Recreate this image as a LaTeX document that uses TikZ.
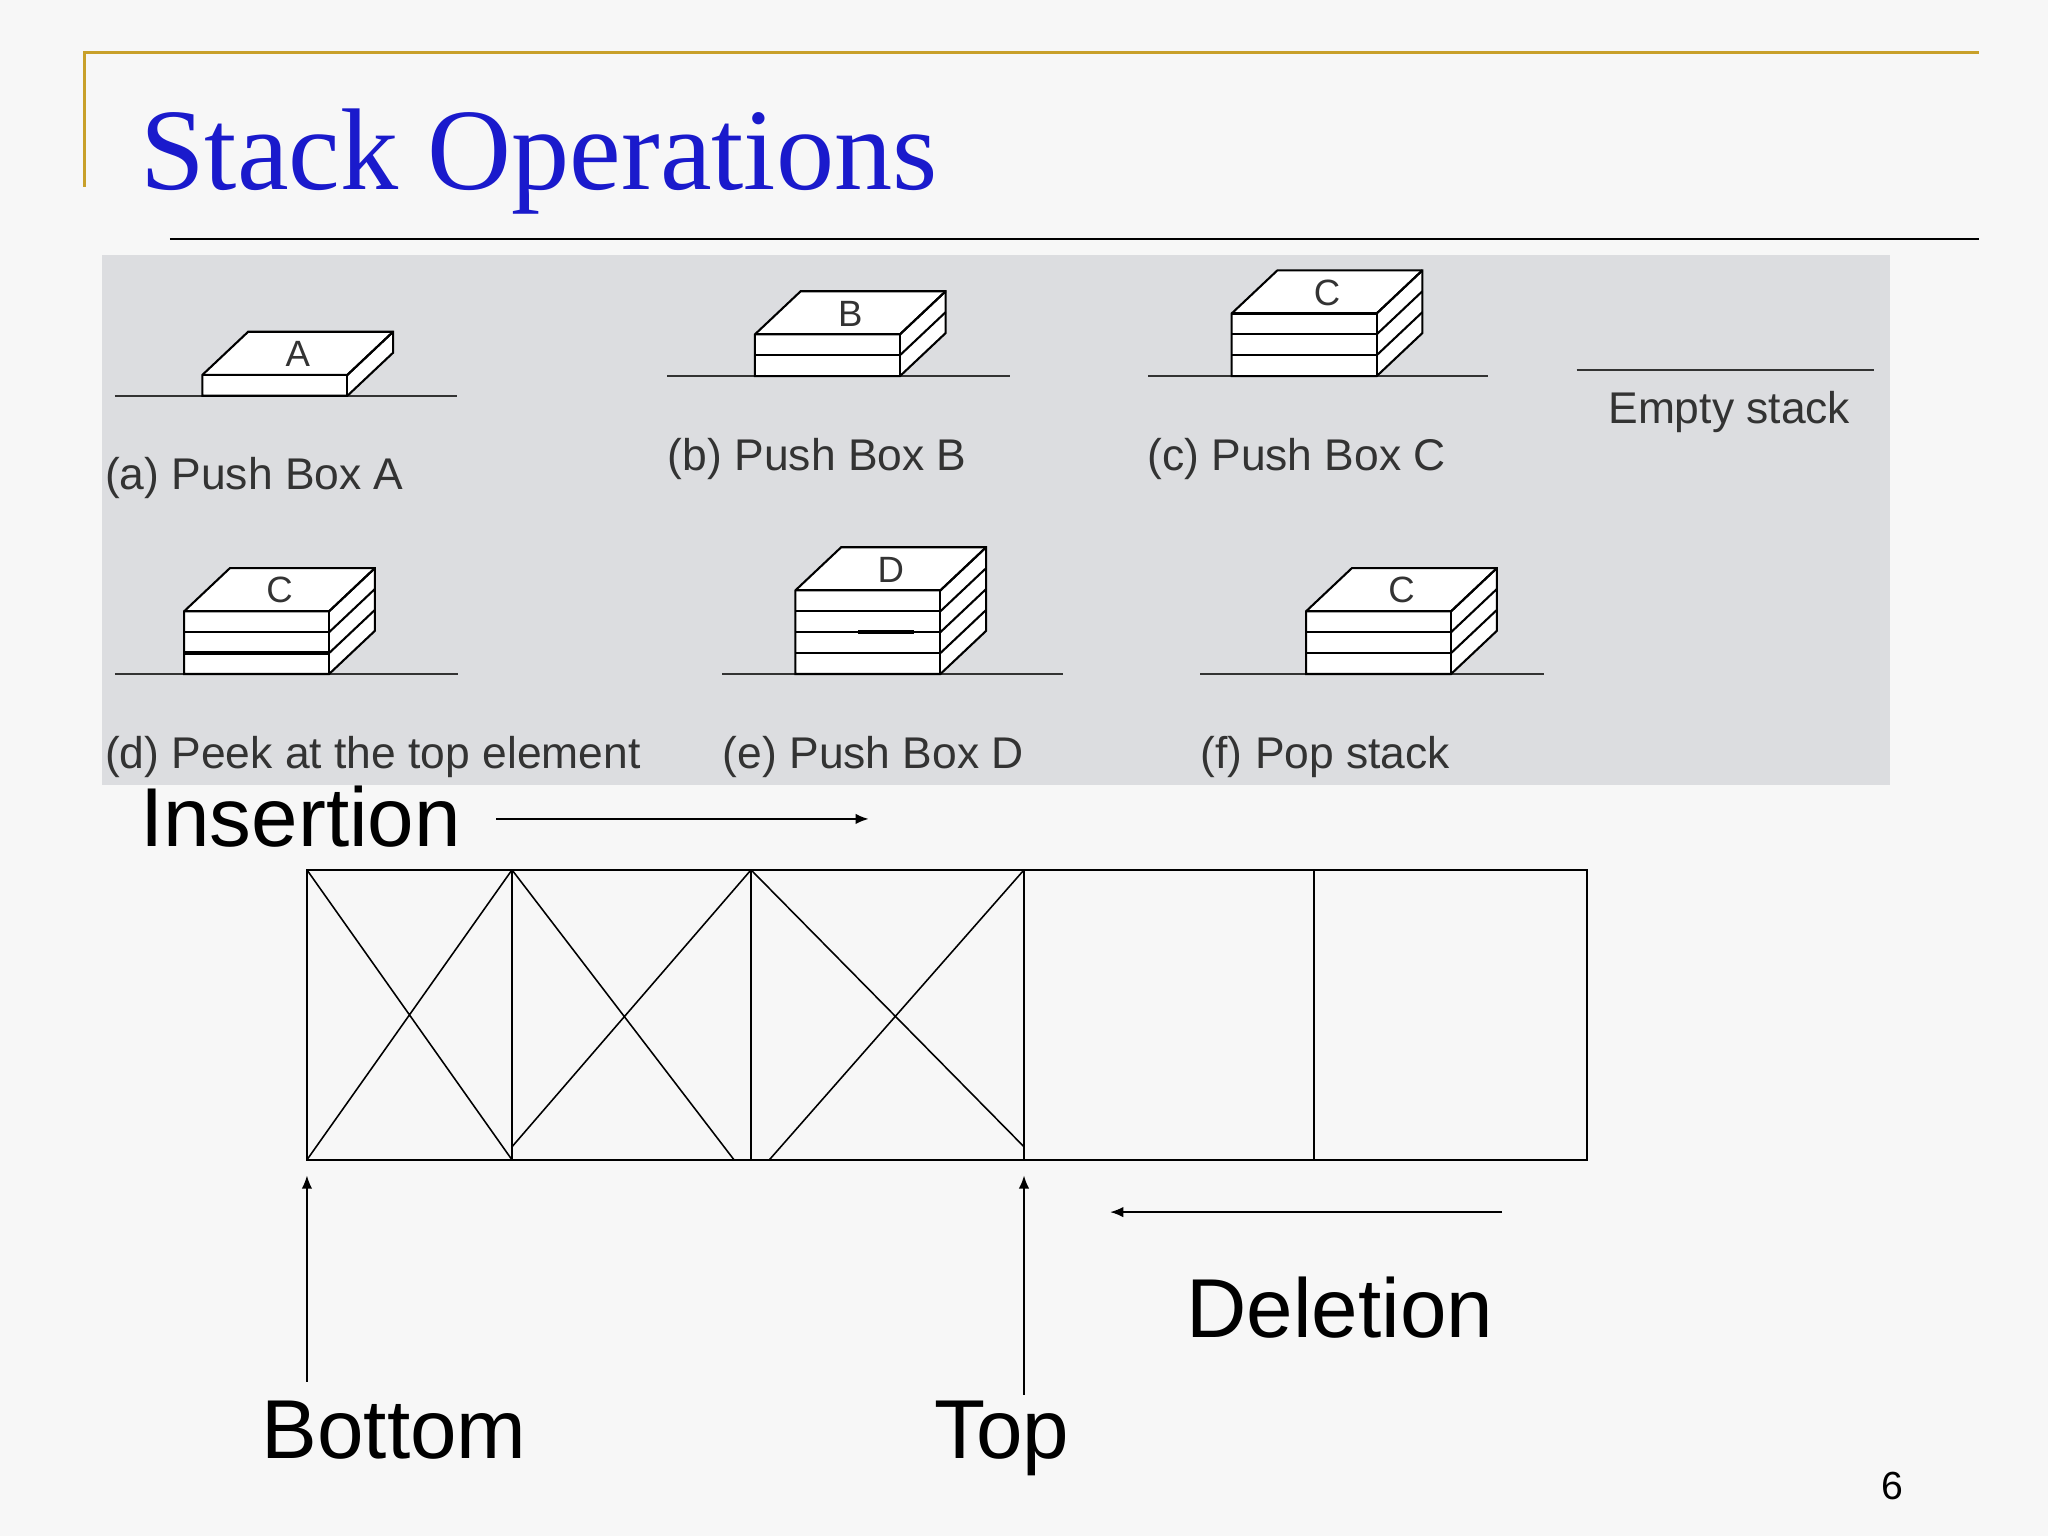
\documentclass[tikz,border=0pt]{standalone}
\usepackage{fontspec}
\setmainfont{Liberation Sans}
\newfontfamily\titlefont{Liberation Serif}
\usetikzlibrary{positioning,arrows.meta}
\definecolor{panelgray}{HTML}{DCDDE0}
\definecolor{titleblue}{HTML}{1A1ACC}
\definecolor{rulegold}{HTML}{C8A02A}
\definecolor{labelgray}{HTML}{333333}

% stacked box: x of front left, base y, layers, letter
\newcommand{\stackbox}[4]{%
  \pgfmathsetmacro{\topy}{#2-16*#3}
  \draw[thick,fill=white] (#1,#2) -- (#1+111,#2) -- (#1+146,#2-33) -- (#1+146,\topy-33)
    -- (#1+35,\topy-33) -- (#1,\topy) -- cycle;
  \draw[thick] (#1,\topy) -- (#1+111,\topy) -- (#1+146,\topy-33);
  \draw[thick] (#1+111,\topy) -- (#1+111,#2);
  \foreach \k in {1,...,#3} {
    \draw[thick] (#1,#2-16*\k) -- (#1+111,#2-16*\k);
    \draw[thick] (#1+111,#2-16*\k) -- (#1+146,#2-16*\k-33);
  }
  \node[font=\fontsize{14}{14}\selectfont,text=labelgray] at (#1+73,\topy-16) {#4};
}

\begin{document}
\begin{tikzpicture}[x=0.5pt,y=-0.5pt,
    lbl/.style={anchor=base west,inner sep=0,font=\fontsize{17}{17}\selectfont,text=labelgray},
    big/.style={anchor=base west,inner sep=0,font=\fontsize{32}{32}\selectfont},
    ground/.style={thick,black!80},
    cell/.style={draw,line width=0.6pt},
    arr/.style={-{Latex[length=5pt,width=4pt]},line width=0.6pt}]
  \fill[white!97!black] (0,0) rectangle (1568,1176);
  \useasboundingbox (0,0) rectangle (1568,1176);

  % title and rules
  \draw[rulegold,line width=1.2pt] (65,143) -- (65,40) -- (1515,40);
  \draw[line width=0.8pt] (130,183) -- (1515,183);
  \node[anchor=base west,inner sep=0,text=titleblue,font=\titlefont\fontsize{44.5}{44.5}\selectfont] (title) at (107,145) {Stack Operations};

  % panel
  \fill[panelgray] (78,195) rectangle (1447,601);
  \draw[ground] (88,303) -- (350,303);
  \draw[ground] (511,288) -- (773,288);
  \draw[ground] (879,288) -- (1139,288);
  \draw[ground] (1207,283) -- (1435,283);
  \draw[ground] (88,516) -- (351,516);
  \draw[ground] (553,516) -- (814,516);
  \draw[ground] (919,516) -- (1182,516);
  \stackbox{155}{303}{1}{A}
  \stackbox{578}{288}{2}{B}
  \stackbox{943}{288}{3}{C}
  \stackbox{141}{516}{3}{C}
  \draw[line width=1.6pt] (141,500) -- (252,500);
  \stackbox{609}{516}{4}{D}
  \draw[line width=1.6pt] (657,484) -- (700,484);
  \stackbox{1000}{516}{3}{C}
  \node[lbl] (la) at (80,375) {(a) Push Box A};
  \node[lbl] (lb) at (511,360) {(b) Push Box B};
  \node[lbl] (lc) at (878,360) {(c) Push Box C};
  \node[lbl] (le) at (1231,324) {Empty stack};
  \node[lbl] (ld) at (80,588) {(d) Peek at the top element};
  \node[lbl] (lee) at (553,588) {(e) Push Box D};
  \node[lbl] (lf) at (919,588) {(f) Pop stack};

  % array
  \foreach \a/\b [count=\i] in {235/392,392/575,575/784,784/1006,1006/1215}
    \draw[cell] (\a,666) rectangle (\b,888) coordinate (c\i);
  \draw[line width=0.6pt] (235,666) -- (392,888) (392,666) -- (235,888);
  \draw[line width=0.6pt] (392,666) -- (562,888) (575,666) -- (392,878);
  \draw[line width=0.6pt] (575,666) -- (784,878) (784,666) -- (589,888);

  \node[big] (ins) at (107,648) {Insertion};
  \coordinate (insA) at (380,627);
  \coordinate (insB) at (665,627);
  \draw[arr] (insA) -- (insB);
  \coordinate (delA) at (1150,928);
  \coordinate (delB) at (850,928);
  \draw[arr] (delA) -- (delB);
  \node[big] (del) at (908,1024) {Deletion};
  \node[big] (bot) at (200,1117) {Bottom};
  \node[big] (top) at (715,1117) {Top};
  \coordinate (botA) at (235,1058);
  \coordinate (botB) at (235,900);
  \coordinate (topA) at (784,1068);
  \coordinate (topB) at (784,900);
  \draw[arr] (botA) -- (botB);
  \draw[arr] (topA) -- (topB);
  \node[anchor=base west,inner sep=0,font=\fontsize{15}{15}\selectfont] (pg) at (1440,1148) {6};
\end{tikzpicture}
\end{document}
